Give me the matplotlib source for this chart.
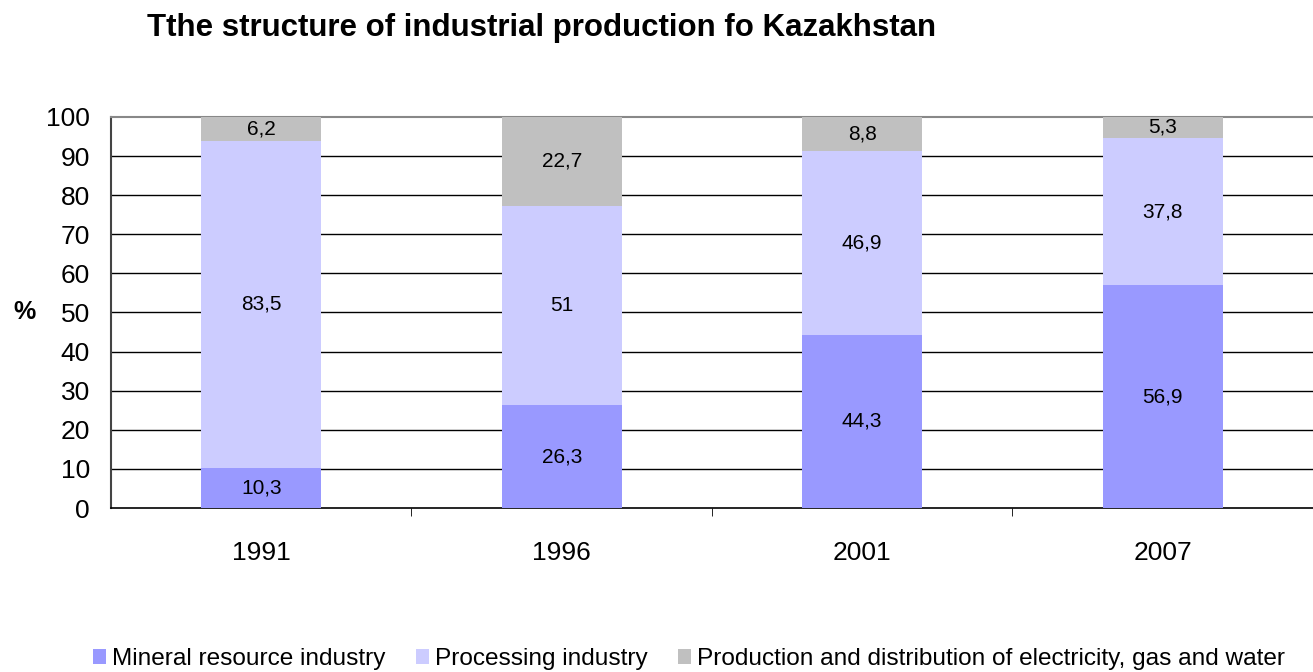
import matplotlib.pyplot as plt
import numpy as np

plt.rcParams['font.family'] = ['Liberation Sans', 'DejaVu Sans']

years = ["1991", "1996", "2001", "2007"]
mineral = [10.3, 26.3, 44.3, 56.9]
processing = [83.5, 51, 46.9, 37.8]
electricity = [6.2, 22.7, 8.8, 5.3]
labels_min = ["10,3", "26,3", "44,3", "56,9"]
labels_proc = ["83,5", "51", "46,9", "37,8"]
labels_el = ["6,2", "22,7", "8,8", "5,3"]

series_names = ["Mineral resource industry", "Processing industry",
                "Production and distribution of electricity, gas and water"]
colors = ["#9999FF", "#CCCCFF", "#C0C0C0"]

fig = plt.figure(figsize=(13.13, 6.72), dpi=100)
ax = fig.add_axes([0.0845, 0.244, 0.9155, 0.582])

x = np.arange(len(years))
w = 0.4
bottoms = np.zeros(len(years))
bars = []
for vals, col, name, labs in zip([mineral, processing, electricity], colors,
                                 series_names, [labels_min, labels_proc, labels_el]):
    b = ax.bar(x, vals, w, bottom=bottoms, color=col, label=name, zorder=3)
    for xi, bi, vi, li in zip(x, bottoms, vals, labs):
        ax.text(xi, bi + vi / 2, li, ha='center', va='center', fontsize=15, zorder=4)
    bottoms = bottoms + np.array(vals)
    bars.append(b)

ax.set_xlim(-0.5, len(years) - 0.5)
ax.set_ylim(0, 100)
ax.set_yticks(range(0, 101, 10))
ax.tick_params(axis='y', labelsize=19, length=0, pad=15)
ax.set_xticks(x)
ax.set_xticklabels(years, fontsize=19)
ax.tick_params(axis='x', length=0, pad=24)
ax.set_xticks(np.arange(0.5, len(years) - 1, 1), minor=True)
ax.tick_params(axis='x', which='minor', length=6, direction='out', color='black')

for yv in range(10, 100, 10):
    ax.axhline(yv, color='black', lw=1, zorder=1)

ax.spines['top'].set_color('#888888')
ax.spines['top'].set_linewidth(1.5)
ax.spines['right'].set_visible(False)
ax.spines['left'].set_color('#444444')
ax.spines['left'].set_linewidth(1.5)
ax.spines['bottom'].set_linewidth(1.2)

ax.set_ylabel('%', fontsize=18, fontweight='bold', rotation=0, labelpad=16, va='center')

fig.text(0.112, 0.958, "Tthe structure of industrial production fo Kazakhstan",
         fontsize=22.5, fontweight='bold', ha='left', va='center')

fig.legend(handles=bars, loc='lower left', bbox_to_anchor=(0.054, -0.03), ncol=3,
           frameon=False, fontsize=17.6, handlelength=0.53, handleheight=0.53,
           handletextpad=0.25, columnspacing=1.25)

fig.savefig("out.png", dpi=100)
